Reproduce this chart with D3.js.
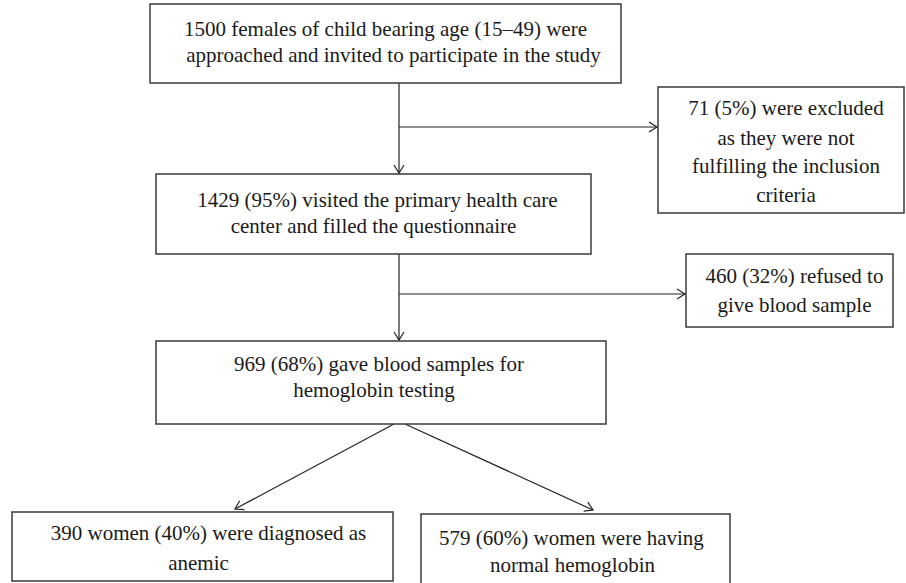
<!DOCTYPE html>
<html>
<head>
<meta charset="utf-8">
<script src="https://cdn.jsdelivr.net/npm/d3@7"></script>
<style>
  html, body { margin: 0; padding: 0; background: #fff; }
  svg text { font-family: "Liberation Serif", "DejaVu Serif", serif; fill: #1a1a1a; }
</style>
</head>
<body>
<div id="chart"></div>
<script>
// flow counts and their text, one line per entry
const nodeIds = ["approached", "excluded", "visited", "refused", "tested", "anemic", "normal"];
const nodeCounts = [1500, 71, 1429, 460, 969, 390, 579];
const nodeLines = [
    ["1500 females of child bearing age (15\u201349) were", "approached and invited to participate in the study"],
    ["71 (5%) were excluded", "as they were not", "fulfilling the inclusion", "criteria"],
    ["1429 (95%) visited the primary health care", "center and filled the questionnaire"],
    ["460 (32%) refused to", "give blood sample"],
    ["969 (68%) gave blood samples for", "hemoglobin testing"],
    ["390 women (40%) were diagnosed as", "anemic"],
    ["579 (60%) women were having", "normal hemoglobin"]
];
// links: main trunk with side exits, then the split
const links = [
    { from: "approached", to: "visited", type: "down" },
    { from: "approached", to: "excluded", type: "side" },
    { from: "visited", to: "tested", type: "down" },
    { from: "visited", to: "refused", type: "side" },
    { from: "tested", to: "anemic", type: "split" },
    { from: "tested", to: "normal", type: "split" }
];

/* layout of the boxes (pixel geometry) */
const layout = {
    approached: { x: 150, y: 4,   w: 471, h: 79,  base: [32, 58],  dx: [0, 8] },
    excluded:   { x: 658, y: 87,  w: 246, h: 126, base: [28, 58, 86, 115], dx: [5, 5, 5, 5] },
    visited:    { x: 156, y: 174, w: 435, h: 80,  base: [33, 59],  dx: [4, 0] },
    refused:    { x: 686, y: 254, w: 207, h: 73,  base: [29, 58],  dx: [5, 5] },
    tested:     { x: 156, y: 341, w: 450, h: 83,  base: [30, 56],  dx: [-2, -7] },
    anemic:     { x: 12,  y: 512, w: 381, h: 69,  base: [28, 58],  dx: [6, -4] },
    normal:     { x: 421, y: 514, w: 309, h: 72,  base: [31, 58],  dx: [-4, -3] }
};
const trunkX = 399;
const sideY = { excluded: 127, refused: 294 };
const splitStart = { anemic: 394, normal: 405 };
const splitTip = { anemic: [235, 509], normal: [593, 510] };

const width = 906, height = 583;
const svg = d3.select("#chart").append("svg")
    .attr("width", width)
    .attr("height", height);

svg.append("defs").append("marker")
    .attr("id", "arrow")
    .attr("markerUnits", "userSpaceOnUse")
    .attr("viewBox", "-10 -6 12 12")
    .attr("refX", 0).attr("refY", 0)
    .attr("markerWidth", 12).attr("markerHeight", 12)
    .attr("orient", "auto")
    .append("path")
        .attr("d", "M-8,-5L0,0L-8,5")
        .attr("fill", "none")
        .attr("stroke", "#222")
        .attr("stroke-width", 1.2);

const nodes = nodeIds.map((id, i) => ({ id, count: nodeCounts[i], lines: nodeLines[i], ...layout[id] }));
const byId = new Map(nodes.map(d => [d.id, d]));

// build the link geometry
const linkPath = (l) => {
    const a = byId.get(l.from), b = byId.get(l.to);
    if (l.type === "down") return d3.line()([[trunkX, a.y + a.h], [trunkX, b.y - 1]]);
    if (l.type === "side") return d3.line()([[trunkX, sideY[l.to]], [b.x - 1, sideY[l.to]]]);
    return d3.line()([[splitStart[l.to], a.y + a.h], splitTip[l.to]]);
};

svg.append("g")
    .selectAll("path")
    .data(links)
    .join("path")
        .attr("d", linkPath)
        .attr("fill", "none")
        .attr("stroke", "#222")
        .attr("stroke-width", 1.2)
        .attr("marker-end", "url(#arrow)");

const box = svg.append("g")
    .selectAll("g")
    .data(nodes)
    .join("g")
        .attr("transform", d => `translate(${d.x},${d.y})`);

box.append("rect")
    .attr("width", d => d.w)
    .attr("height", d => d.h)
    .attr("fill", "#fff")
    .attr("stroke", "#3a3a3a")
    .attr("stroke-width", 1.5);

box.selectAll("text")
    .data(d => d.lines.map((t, i) => ({ t, y: d.base[i], x: d.w / 2 + d.dx[i] })))
    .join("text")
        .attr("x", d => d.x)
        .attr("y", d => d.y)
        .attr("text-anchor", "middle")
        .attr("font-size", 21)
        .text(d => d.t);
</script>
</body>
</html>
